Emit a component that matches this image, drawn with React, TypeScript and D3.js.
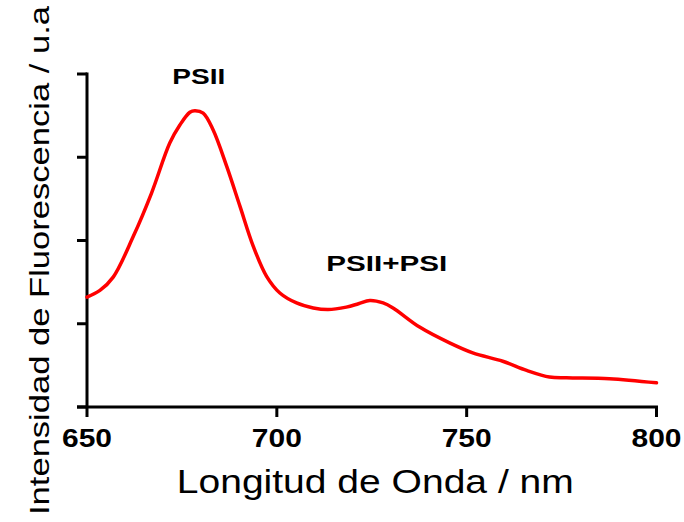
import React from "react";
import * as d3 from "d3";

const wavelength = [650, 653.4, 656.9, 662.2, 667, 671.8, 674.5, 677.1, 678.4, 680.6, 683.2, 686.8, 690.3, 693.8, 697.3, 700.8, 705.2, 709.6, 713.5, 718.3, 721.5, 724.5, 728, 730.6, 737.6, 745.5, 751.6, 759.5, 765.8, 771.8, 776.3, 787.6, 800];
const intensity = [1.32, 1.40, 1.56, 2.05, 2.57, 3.17, 3.39, 3.54, 3.56, 3.53, 3.33, 2.89, 2.41, 1.93, 1.57, 1.37, 1.25, 1.19, 1.17, 1.20, 1.24, 1.28, 1.25, 1.19, 0.96, 0.77, 0.65, 0.55, 0.44, 0.36, 0.35, 0.34, 0.29];
const xTicks = [650, 700, 750, 800];
const yTicks = [0, 1, 2, 3, 4];
const xTitle = "Longitud de Onda / nm";
const yTitle = "Intensidad de Fluorescencia / u.a";
const peakLabels = [
  { text: "PSII", x: 678.4, y: 3.56 },
  { text: "PSII+PSI", x: 724.5, y: 1.28 },
];

export default function App() {
  const W = 684, H = 522;
  const x = d3.scaleLinear().domain([650, 800]).range([87, 656.5]);
  const y = d3.scaleLinear().domain([0, 4]).range([407, 74]);
  const data = wavelength.map((w, i) => [w, intensity[i]] as [number, number]);
  const line = d3
    .line<[number, number]>()
    .x((d) => x(d[0]))
    .y((d) => y(d[1]))
    .curve(d3.curveCatmullRom.alpha(0.5));
  const font = "'Liberation Sans', Arial, sans-serif";
  return (
    <svg width={W} height={H} style={{ position: "absolute", left: 0, top: 0, background: "#fff" }}>
      <rect x={0} y={0} width={W} height={H} fill="#fff" />
      <line x1={x(650)} x2={x(650)} y1={y(4) - 1.5} y2={y(0)} stroke="#000" strokeWidth={3} />
      <line x1={x(650) - 10} x2={x(800) + 1.5} y1={y(0)} y2={y(0)} stroke="#000" strokeWidth={3} />
      {yTicks.map((t) => (
        <line key={"yt" + t} x1={x(650) - 10} x2={x(650)} y1={y(t)} y2={y(t)} stroke="#000" strokeWidth={3} />
      ))}
      {xTicks.map((t) => (
        <g key={"xt" + t}>
          <line x1={x(t)} x2={x(t)} y1={y(0)} y2={y(0) + 10} stroke="#000" strokeWidth={3} />
          <text
            x={x(t)}
            y={447}
            textAnchor="middle"
            fontFamily={font}
            fontWeight="bold"
            fontSize={25.5}
            textLength={50}
            lengthAdjust="spacingAndGlyphs"
          >
            {t}
          </text>
        </g>
      ))}
      <path d={line(data) || ""} fill="none" stroke="#ff0000" strokeWidth={3.5} strokeLinejoin="round" strokeLinecap="round" />
      <text x={x(peakLabels[0].x) + 4} y={84.3} textAnchor="middle" fontFamily={font} fontWeight="bold" fontSize={22.5} textLength={53} lengthAdjust="spacingAndGlyphs">
        {peakLabels[0].text}
      </text>
      <text x={x(peakLabels[1].x) + 17} y={271} textAnchor="middle" fontFamily={font} fontWeight="bold" fontSize={22.5} textLength={121} lengthAdjust="spacingAndGlyphs">
        {peakLabels[1].text}
      </text>
      <text x={375.3} y={493.3} textAnchor="middle" fontFamily={font} fontSize={33} textLength={397} lengthAdjust="spacingAndGlyphs">
        {xTitle}
      </text>
      <text
        transform={`translate(49, 260.5) rotate(-90)`}
        textAnchor="middle"
        fontFamily={font}
        fontSize={28}
        textLength={509}
        lengthAdjust="spacingAndGlyphs"
      >
        {yTitle}
      </text>
    </svg>
  );
}
